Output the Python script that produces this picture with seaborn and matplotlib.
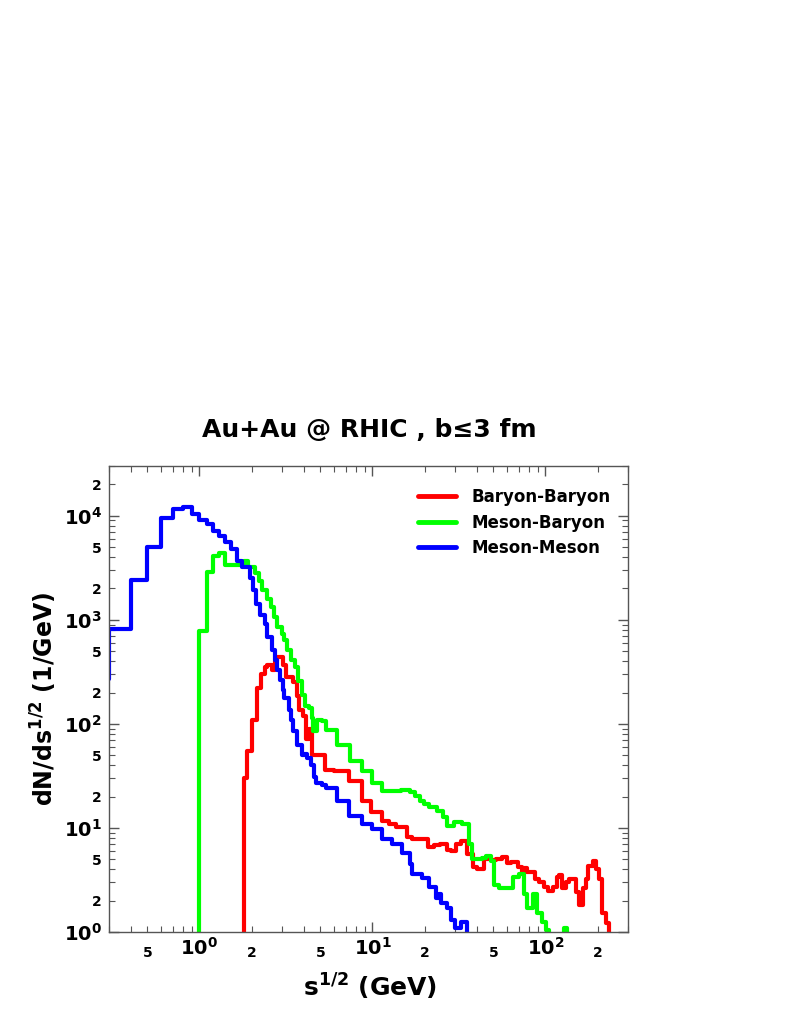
"""Au+Au @ RHIC collision-energy spectra by collision type (step histograms, log-log)."""
import matplotlib
matplotlib.use('Agg')
import matplotlib.pyplot as plt  # noqa: E402
import numpy as np  # noqa: E402
import pandas as pd  # noqa: E402
import seaborn as sns  # noqa: E402
from matplotlib.ticker import FuncFormatter, LogLocator  # noqa: E402

# step-post: value holds from edge[i] up to edge[i+1]; 0.01 = drop below the axis
BB_X = [1.70, 1.82, 1.87, 2.00, 2.15, 2.28, 2.38, 2.47, 2.64, 2.72, 2.82, 3.02, 3.18, 3.45,
        3.64, 3.78, 3.94, 4.15, 4.32, 4.50, 5.28, 6.03, 7.36, 8.65, 9.86, 11.3, 12.5, 13.7,
        15.9, 17.0, 20.8, 22.8, 24.4, 26.8, 28.6, 30.5, 32.6, 35.3, 37.9, 40.3, 44.4, 48.7,
        52.0, 56.4, 60.2, 63.5, 68.9, 72.7, 75.4, 78.6, 86.8, 92.1, 98.5, 103, 110, 116,
        120, 125, 132, 137, 143, 151, 157, 164, 172, 175, 187, 197, 205, 212, 225, 234]
BB_Y = [0.01, 30, 55, 109, 223, 300, 350, 370, 330, 400, 435, 370, 280, 250,
        187, 137, 120, 72, 90, 50, 36, 35, 28, 18.3, 14.3, 11.7, 11.0, 10.2,
        8.2, 7.8, 6.5, 6.8, 7.0, 6.2, 6.0, 7.0, 7.5, 5.6, 4.2, 4.0, 5.0, 4.9,
        5.0, 5.2, 4.6, 4.7, 4.2, 3.6, 4.1, 3.8, 3.2, 3.0, 2.7, 2.45, 2.7, 3.4,
        3.5, 2.67, 3.0, 3.2, 3.2, 2.4, 1.83, 2.67, 3.2, 4.3, 4.8, 4.0, 3.2, 1.53, 1.22, 0.01]

MB_X = [0.95, 1.00, 1.10, 1.20, 1.30, 1.40, 1.80, 1.90, 2.10, 2.20, 2.30, 2.45, 2.60, 2.70,
        2.80, 3.00, 3.10, 3.20, 3.40, 3.55, 3.70, 3.90, 4.05, 4.30, 4.45, 4.55, 4.75, 5.10,
        5.40, 6.20, 7.40, 8.70, 10.0, 11.3, 13.0, 14.7, 16.4, 17.5, 18.7, 19.9, 21.3, 23.7,
        25.4, 26.8, 29.5, 33.0, 36.3, 37.8, 43.0, 45.5, 48.7, 50.6, 54.2, 64.5, 70.6, 75.4,
        78.6, 84.2, 89.8, 94.9, 101, 105, 128, 133]
MB_Y = [0.01, 780, 2900, 4100, 4350, 3350, 3650, 3200, 2800, 2350, 1950, 1600, 1330, 1070,
        850, 730, 640, 510, 410, 350, 260, 190, 150, 142, 114, 85, 110, 107,
        87, 62, 44, 35, 27, 22.4, 22.8, 23.3, 22.0, 20.4, 18.3, 17.1, 16.0, 14.6,
        12.8, 10.4, 11.4, 10.9, 7.0, 5.0, 5.1, 5.35, 4.8, 2.86, 2.67, 3.4, 3.6, 2.3,
        1.7, 2.3, 1.53, 1.25, 1.05, 0.01, 1.1, 0.01]

MM_X = [0.20, 0.30, 0.40, 0.50, 0.60, 0.70, 0.80, 0.90, 1.00, 1.10, 1.20, 1.30, 1.40, 1.53,
        1.64, 1.75, 1.95, 2.05, 2.13, 2.25, 2.38, 2.47, 2.61, 2.72, 2.82, 2.92, 3.02, 3.10,
        3.31, 3.40, 3.45, 3.64, 3.68, 3.89, 4.04, 4.21, 4.44, 4.62, 4.74, 5.13, 5.42, 6.27,
        7.36, 8.70, 10.0, 11.3, 13.0, 14.9, 16.4, 17.0, 19.4, 21.3, 23.4, 24.2, 25.0, 26.8,
        28.6, 29.8, 32.6, 35.3]
MM_Y = [270, 820, 2400, 5000, 9500, 11500, 12000, 10500, 9000, 8300, 7200, 6400, 5600, 4800,
        3700, 3200, 2500, 1950, 1430, 1110, 910, 685, 510, 410, 330, 265, 213, 178,
        137, 109, 85, 76, 63, 50, 51, 47, 40, 31, 27, 26, 24, 18,
        13, 11, 9.8, 7.8, 7.0, 5.8, 4.5, 3.6, 3.3, 2.7, 2.1, 2.3, 1.9, 1.7,
        1.3, 1.1, 1.25, 0.01]

LABELS = ['Baryon-Baryon', 'Meson-Baryon', 'Meson-Meson']
COLORS = {'Baryon-Baryon': '#FF0000', 'Meson-Baryon': '#00FF00', 'Meson-Meson': '#0000FF'}

df = pd.concat([pd.DataFrame({'x': xs, 'y': ys, 'set': lab})
                for lab, xs, ys in zip(LABELS, [BB_X, MB_X, MM_X], [BB_Y, MB_Y, MM_Y])],
               ignore_index=True)

sns.set_style('ticks')
plt.rcParams['font.family'] = ['DejaVu Sans']
plt.rcParams['font.weight'] = 'bold'
plt.rcParams['mathtext.fontset'] = 'dejavusans'
plt.rcParams['mathtext.default'] = 'bf'
plt.rcParams['text.color'] = 'black'
plt.rcParams['axes.labelcolor'] = 'black'

fig = plt.figure(figsize=(7.97, 10.32), dpi=100)
ax = fig.add_axes([0.1368, 0.0969, 0.6512, 0.4515])

sns.lineplot(data=df, x='x', y='y', hue='set', hue_order=LABELS, palette=COLORS,
             estimator=None, sort=False, units='set', drawstyle='steps-post',
             linewidth=3, legend=False, ax=ax)

ax.set_xscale('log')
ax.set_yscale('log')
ax.set_xlim(0.3, 300)
ax.set_ylim(1, 3e4)


def major_fmt(v, _):
    return r'$\mathbf{10^{%d}}$' % int(round(np.log10(v)))


def minor_fmt(v, _):
    m = int(round(v / 10 ** np.floor(np.log10(v) + 1e-9)))
    return str(m) if m in (2, 5) else ''


for axis in (ax.xaxis, ax.yaxis):
    axis.set_major_locator(LogLocator(base=10, numticks=20))
    axis.set_minor_locator(LogLocator(base=10, subs=np.arange(2, 10), numticks=20))
    axis.set_major_formatter(FuncFormatter(major_fmt))
    axis.set_minor_formatter(FuncFormatter(minor_fmt))

ax.tick_params(which='both', direction='in', top=True, right=True, color='#555555',
               labelcolor='black')
ax.tick_params(which='major', length=7, width=1, labelsize=14)
ax.tick_params(which='minor', length=4, width=0.8, labelsize=10)
ax.tick_params(axis='x', which='minor', pad=10)
ax.tick_params(axis='y', which='both', pad=5)
for s in ax.spines.values():
    s.set_color('#555555')
    s.set_linewidth(1)

ax.set_xlabel(r's$^{1/2}$ (GeV)', fontsize=18, fontweight='bold')
ax.set_ylabel(r'dN/ds$^{1/2}$ (1/GeV)', fontsize=17, fontweight='bold')
ax.xaxis.set_label_coords(0.503, -0.085)
ax.yaxis.set_label_coords(-0.096, 0.5)

fig.text(0.464, 0.583, 'Au+Au @ RHIC , b\u22643 fm', ha='center', va='center',
         fontsize=18, fontweight='bold')

handles = [plt.Line2D([0], [0], color=COLORS[n], lw=3.5) for n in LABELS]
ax.legend(handles, LABELS, loc='upper right', frameon=False,
          handlelength=2.3, handletextpad=0.9, labelspacing=0.45,
          bbox_to_anchor=(0.995, 0.985), prop={'weight': 'bold', 'size': 12})

fig.savefig('out.png', dpi=100)
